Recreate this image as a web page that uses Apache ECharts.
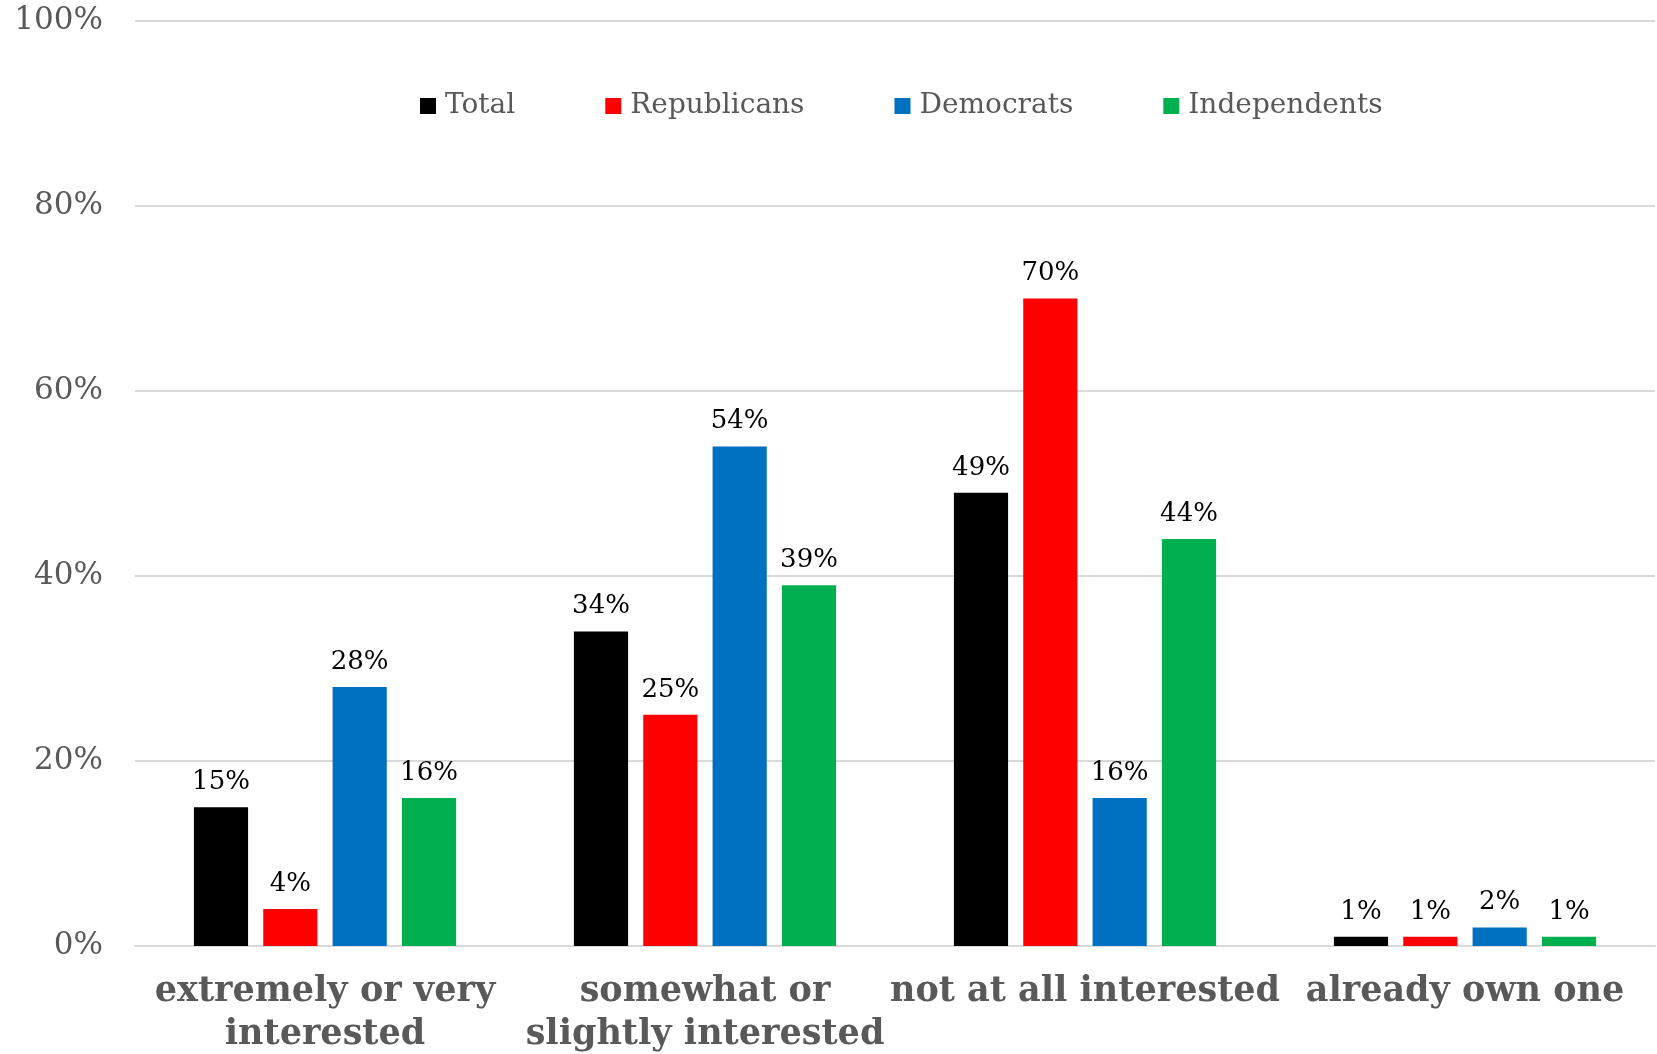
<!DOCTYPE html>
<html>
<head>
<meta charset="utf-8">
<script src="https://cdn.jsdelivr.net/npm/echarts@6/dist/echarts.min.js"></script>
<style>
    html, body { margin: 0; padding: 0; background: #fff; }
    #chart { width: 1657px; height: 1054px; }
</style>
</head>
<body>
<div id="chart"></div>
<script>
var categories = ['extremely or very\ninterested', 'somewhat or\nslightly interested', 'not at all interested', 'already own one'];
var seriesNames = ['Total', 'Republicans', 'Democrats', 'Independents'];
var totalVals = [15, 34, 49, 1];
var repVals = [4, 25, 70, 1];
var demVals = [28, 54, 16, 2];
var indVals = [16, 39, 44, 1];
var colors = ['#000000', '#FF0000', '#0070C0', '#00B050'];

var font = 'Georgia, "DejaVu Serif", serif';

function makeSeries(name, vals, color) {
    return {
        name: name,
        type: 'bar',
        data: vals,
        barGap: '28%',
        barCategoryGap: '31%',
        itemStyle: { color: color },
        label: {
            show: true,
            position: 'top',
            distance: 12,
            formatter: '{c}%',
            color: '#000',
            fontFamily: font,
            fontSize: 26
        }
    };
}

var myChart = echarts.init(document.getElementById('chart'));
var option = {
    animation: false,
    color: colors,
    textStyle: { fontFamily: font },
    grid: { left: 135, right: 2, top: 21, bottom: 108, outerBoundsMode: 'none' },
    legend: {
        data: seriesNames,
        top: 87,
        left: 415,
        itemWidth: 16,
        itemHeight: 16,
        itemGap: 90,
        icon: 'rect',
        textStyle: { fontFamily: font, fontSize: 28, color: '#595959', padding: [0, 0, 0, 4] }
    },
    xAxis: {
        type: 'category',
        data: categories,
        axisLine: { lineStyle: { color: '#D9D9D9', width: 2 } },
        axisTick: { show: false },
        axisLabel: {
            interval: 0,
            margin: 24,
            fontFamily: font,
            fontSize: 35,
            fontWeight: 'bold',
            color: '#595959',
            lineHeight: 43
        }
    },
    yAxis: {
        type: 'value',
        min: 0,
        max: 100,
        interval: 20,
        axisLine: { show: false },
        axisTick: { show: false },
        splitLine: { lineStyle: { color: '#D9D9D9', width: 2 } },
        axisLabel: {
            formatter: '{value}%',
            margin: 32,
            fontFamily: font,
            fontSize: 31,
            color: '#595959'
        }
    },
    series: [
        makeSeries(seriesNames[0], totalVals, colors[0]),
        makeSeries(seriesNames[1], repVals, colors[1]),
        makeSeries(seriesNames[2], demVals, colors[2]),
        makeSeries(seriesNames[3], indVals, colors[3])
    ]
};
myChart.setOption(option, false);
</script>
</body>
</html>
